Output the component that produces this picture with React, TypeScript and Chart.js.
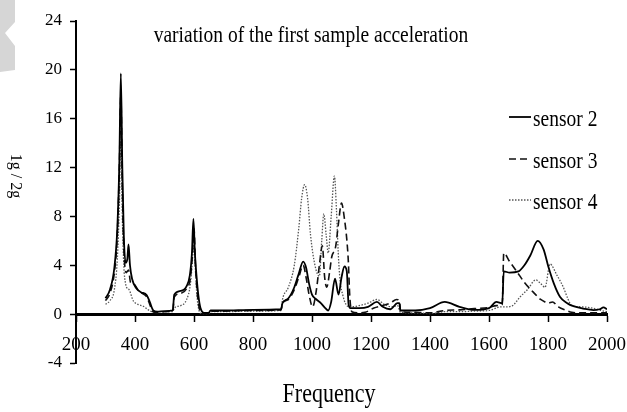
import React, { useEffect, useRef } from "react";
import { Chart, registerables } from "chart.js";

Chart.register(...registerables);

const titleText = "variation of the first sample acceleration";
const xTitle = "Frequency";
const yTitle = "1g / 2g";
const seriesLabels = ["sensor 2", "sensor 3", "sensor 4"];

const sensor2Freq = [300, 315, 330, 340, 347, 352, 357, 362, 368, 374, 378, 383, 390, 405, 420, 440, 450, 462, 475, 500, 528, 533, 555, 575, 586, 593, 598, 603, 609, 615, 622, 635, 650, 656, 700, 800, 895, 900, 920, 940, 955, 970, 980, 990, 1000, 1015, 1030, 1045, 1055, 1065, 1078, 1090, 1100, 1110, 1118, 1124, 1130, 1160, 1190, 1220, 1240, 1265, 1290, 1296, 1300, 1350, 1400, 1450, 1500, 1550, 1600, 1625, 1645, 1650, 1670, 1700, 1720, 1740, 1765, 1785, 1801, 1820, 1841, 1865, 1886, 1920, 1954, 1975, 1988, 2000];
const sensor2Amp = [1.3, 2.0, 3.8, 7, 12.5, 19.7, 12, 6.5, 4.2, 4.5, 5.7, 4.0, 2.9, 2.1, 1.8, 1.55, 1.0, 0.3, 0.2, 0.25, 0.3, 1.6, 1.9, 2.3, 3.2, 5, 7.8, 5, 3.0, 1.5, 0.5, 0.1, 0.1, 0.3, 0.3, 0.35, 0.4, 0.9, 1.3, 2.2, 3.3, 4.3, 3.8, 2.5, 1.6, 1.2, 0.9, 0.5, 0.3, 1.0, 2.9, 1.6, 3.0, 3.9, 3.5, 0.8, 0.5, 0.5, 0.6, 1.0, 0.6, 0.4, 0.9, 0.9, 0.3, 0.3, 0.5, 1.0, 0.6, 0.35, 0.5, 1.0, 0.9, 3.5, 3.4, 3.5, 4.0, 4.8, 6.0, 5.3, 3.9, 2.5, 1.4, 0.9, 0.65, 0.45, 0.33, 0.4, 0.55, 0.4];

const sensor3Freq = [300, 315, 330, 340, 347, 352, 357, 362, 370, 378, 385, 395, 410, 425, 440, 450, 460, 475, 500, 528, 533, 555, 575, 588, 595, 600, 605, 610, 617, 625, 650, 656, 700, 800, 895, 900, 920, 940, 955, 970, 980, 990, 1002, 1015, 1025, 1035, 1043, 1050, 1060, 1067, 1080, 1090, 1100, 1110, 1118, 1123, 1128, 1135, 1160, 1180, 1210, 1240, 1265, 1287, 1297, 1300, 1350, 1400, 1450, 1500, 1550, 1600, 1625, 1645, 1650, 1670, 1694, 1720, 1750, 1775, 1790, 1801, 1815, 1835, 1863, 1880, 1920, 1960, 2000];
const sensor3Amp = [1.1, 1.7, 3.4, 6.5, 12, 18, 10.5, 5.5, 3.4, 3.6, 2.6, 2.5, 2.0, 1.7, 1.4, 0.8, 0.2, 0.1, 0.2, 0.25, 1.4, 1.7, 2.1, 3.0, 5.0, 7.0, 4, 2, 0.6, 0.1, 0.05, 0.25, 0.25, 0.3, 0.35, 0.9, 1.2, 2.0, 3.0, 4.0, 3.0, 1.6, 0.6, 2.0, 4.0, 5.6, 3.0, 2.2, 3.5, 4.7, 5.5, 7.5, 9.1, 7.8, 6.1, 4.4, 1.5, 0.2, 0.1, 0.15, 0.5, 0.7, 0.9, 1.2, 1.0, 0.2, 0.15, 0.1, 0.3, 0.35, 0.45, 0.55, 0.7, 0.8, 5.0, 4.3, 3.5, 2.6, 1.8, 1.2, 1.0, 0.9, 1.0, 0.6, 0.3, 0.15, 0.1, 0.1, 0.1];

const sensor4Freq = [300, 315, 330, 340, 347, 352, 357, 362, 368, 374, 380, 394, 410, 428, 445, 460, 500, 528, 533, 555, 575, 588, 595, 600, 605, 610, 617, 625, 650, 656, 700, 800, 895, 900, 920, 940, 955, 965, 975, 985, 995, 1010, 1025, 1033, 1040, 1048, 1055, 1065, 1076, 1083, 1089, 1095, 1105, 1115, 1130, 1160, 1190, 1220, 1245, 1270, 1290, 1300, 1350, 1400, 1450, 1500, 1550, 1600, 1640, 1660, 1680, 1705, 1730, 1759, 1775, 1790, 1807, 1830, 1852, 1865, 1880, 1910, 1950, 1980, 2000];
const sensor4Amp = [0.8, 1.1, 2.0, 4.5, 9, 14.5, 8, 4, 2.5, 2.1, 2.0, 1.1, 0.8, 0.65, 0.35, 0.2, 0.2, 0.2, 0.5, 0.7, 1.2, 2.5, 4.5, 6.0, 3.5, 1.5, 0.3, 0.05, 0.05, 0.2, 0.2, 0.25, 0.3, 1.2, 2.2, 4.0, 7.0, 9.5, 10.6, 9.5, 6.5, 4.0, 3.1, 6.0, 8.2, 6.5, 5.0, 8.0, 11.3, 8.5, 5.0, 2.8, 1.5, 0.8, 0.6, 0.7, 0.9, 1.2, 0.8, 0.6, 0.7, 0.15, 0.1, 0.05, 0.2, 0.2, 0.25, 0.3, 0.6, 0.6, 0.7, 1.4, 2.0, 2.8, 2.5, 2.2, 4.1, 3.2, 2.2, 1.4, 0.7, 0.6, 0.5, 0.3, 0.2];

const SERIF = '"Liberation Serif", "Times New Roman", serif';

const toPoints = (fs: number[], vs: number[]) => fs.map((f, i) => ({ x: f, y: vs[i] }));

const drawTallText = (ctx: any, text: string, x: number, y: number, size: number, stretch: number) => {
  ctx.save();
  ctx.translate(x, y);
  ctx.scale(1, stretch);
  ctx.font = `${size}px ${SERIF}`;
  ctx.fillText(text, 0, 0);
  ctx.restore();
};

const decorPlugin = {
  id: "decor",
  beforeDraw(chart: any) {
    const ctx = chart.ctx;
    ctx.save();
    ctx.fillStyle = "#d6d6d6";
    ctx.beginPath();
    ctx.moveTo(0, 0);
    ctx.lineTo(15, 0);
    ctx.lineTo(15, 22);
    ctx.lineTo(5, 33);
    ctx.lineTo(15, 46);
    ctx.lineTo(15, 70);
    ctx.lineTo(0, 72);
    ctx.closePath();
    ctx.fill();
    ctx.restore();
  },
  afterDraw(chart: any) {
    const ctx = chart.ctx;
    ctx.save();
    ctx.fillStyle = "#000";
    ctx.textAlign = "center";
    ctx.textBaseline = "middle";
    drawTallText(ctx, titleText, 311, 36, 19.5, 1.2);
    drawTallText(ctx, xTitle, 329, 395, 22, 1.2);
    ctx.save();
    ctx.translate(15, 176);
    ctx.rotate(Math.PI / 2);
    ctx.font = `16px ${SERIF}`;
    ctx.fillText(yTitle, 0, 0);
    ctx.restore();

    // legend
    const rows = [120, 162, 203];
    chart.data.datasets.forEach((ds: any, i: number) => {
      const y = rows[i];
      ctx.save();
      ctx.strokeStyle = ds.borderColor;
      ctx.lineWidth = ds.borderWidth;
      ctx.setLineDash(ds.borderDash || []);
      ctx.beginPath();
      ctx.moveTo(509, y - 3);
      ctx.lineTo(531, y - 3);
      ctx.stroke();
      ctx.restore();
      ctx.fillStyle = "#000";
      ctx.textAlign = "left";
      drawTallText(ctx, ds.label, 533, y, 19.5, 1.2);
    });
    ctx.restore();
  },
};

export default function App() {
  const ref = useRef<HTMLCanvasElement | null>(null);
  useEffect(() => {
    document.body.style.margin = "0";
    const canvas = ref.current;
    if (!canvas) return;
    const chart = new Chart(canvas, {
      type: "line",
      data: {
        datasets: [
          {
            label: seriesLabels[0],
            data: toPoints(sensor2Freq, sensor2Amp),
            borderColor: "#000",
            borderWidth: 1.8,
            pointRadius: 0,
            cubicInterpolationMode: "monotone",
          },
          {
            label: seriesLabels[1],
            data: toPoints(sensor3Freq, sensor3Amp),
            borderColor: "#111",
            borderWidth: 1.6,
            borderDash: [7, 4],
            pointRadius: 0,
            cubicInterpolationMode: "monotone",
          },
          {
            label: seriesLabels[2],
            data: toPoints(sensor4Freq, sensor4Amp),
            borderColor: "#555",
            borderWidth: 1.3,
            borderDash: [1.5, 1.5],
            pointRadius: 0,
            cubicInterpolationMode: "monotone",
          },
        ],
      },
      options: {
        animation: false,
        responsive: false,
        maintainAspectRatio: false,
        layout: { padding: { left: 0, top: 21, right: 20, bottom: 49 } },
        plugins: { legend: { display: false }, tooltip: { enabled: false }, title: { display: false } },
        scales: {
          x: {
            type: "linear",
            min: 200,
            max: 2000,
            position: { y: 0 } as any,
            ticks: {
              stepSize: 200,
              color: "#000",
              padding: 13,
              maxRotation: 0,
              font: { family: SERIF, size: 19 },
              callback: (v: any) => String(v),
            },
            grid: {
              drawOnChartArea: false,
              drawTicks: true,
              tickLength: 6,
              tickColor: "#000",
              tickWidth: 1.5,
            },
            border: { display: true, color: "#000", width: 3 },
            afterFit: (s: any) => {
              s.paddingLeft = 0;
              s.paddingRight = 0;
            },
          },
          y: {
            min: -4,
            max: 24,
            ticks: {
              stepSize: 4,
              color: "#000",
              padding: 8,
              font: { family: SERIF, size: 17 },
              callback: (v: any) => String(v),
            },
            grid: {
              drawOnChartArea: false,
              drawTicks: true,
              tickLength: 6,
              tickColor: "#000",
              tickWidth: 1.5,
            },
            border: { display: true, color: "#000", width: 2 },
            afterFit: (s: any) => {
              s.width = 76;
              s.paddingTop = 0;
              s.paddingBottom = 0;
            },
          },
        },
      },
      plugins: [decorPlugin],
    });
    return () => chart.destroy();
  }, []);
  return (
    <div style={{ width: 627, height: 412 }}>
      <canvas ref={ref} width={627} height={412} style={{ display: "block" }} />
    </div>
  );
}
